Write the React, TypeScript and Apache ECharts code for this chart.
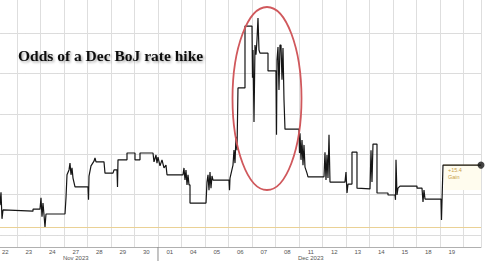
import React, { useEffect, useRef } from 'react';
import * as echarts from 'echarts';

// Trading-day tick labels (one band per trading day)
const dayLabels = ['22', '23', '24', '27', '28', '29', '30', '01', '04', '05', '06', '07', '08', '11', '12', '13', '14', '15', '18', '19'];
const monthLabels: Record<number, string> = { 3: 'Nov 2023', 13: 'Dec 2023' };
const monthBoundary = 7; // first December trading day
const xMax = 20.745; // visible end of the time axis (in trading days)
const yMax = 58.66;
const baseline = 1.9; // reference level (orange line)

// time in trading-day units (0 = start of 22 Nov)
const tradingTime = [
  0.277, 0.319, 0.362, 0.404, 1.681, 1.681, 1.979, 2.021, 2.064, 2.106, 2.149, 2.191, 2.234, 3.043, 3.085, 3.128,
  3.213, 3.255, 3.298, 3.34, 3.383, 3.468, 4.021, 4.043, 4.064, 4.149, 4.277, 4.319, 4.362, 4.702, 4.745, 5.085,
  5.128, 5.255, 5.277, 5.298, 5.681, 5.681, 6.021, 6.021, 6.234, 6.234, 6.787, 6.83, 6.915, 6.957, 7.0, 7.085,
  7.17, 7.255, 7.34, 7.383, 8.064, 8.106, 8.149, 8.191, 8.234, 8.277, 8.319, 8.362, 8.362, 9.043, 9.085, 9.128,
  9.17, 9.213, 9.255, 9.298, 9.34, 10.021, 10.043, 10.064, 10.191, 10.234, 10.277, 10.319, 10.362, 10.404, 10.702, 10.702,
  11.0, 11.021, 11.043, 11.085, 11.128, 11.17, 11.213, 11.255, 11.298, 11.34, 11.681, 11.681, 12.021, 12.043, 12.064, 12.106,
  12.149, 12.191, 12.234, 12.277, 12.319, 12.362, 12.404, 13.0, 13.021, 13.043, 13.085, 13.128, 13.17, 13.213, 13.255, 13.34,
  13.383, 14.064, 14.106, 14.149, 14.191, 14.234, 14.277, 14.319, 14.957, 15.0, 15.043, 15.085, 15.255, 15.255, 15.468, 15.468,
  16.021, 16.064, 16.106, 16.149, 16.319, 16.319, 16.787, 16.787, 17.085, 17.106, 17.128, 17.17, 17.213, 17.298, 18.021, 18.021,
  18.234, 18.277, 18.319, 18.362, 19.043, 19.064, 19.128, 20.745,
];

// odds of a December BoJ rate hike (%)
const odds = [
  7.4, 10.6, 4.0, 6.2, 5.9, 6.4, 6.4, 9.2, 4.5, 7.9, 5.0, 2.0, 5.2, 5.2, 9.2, 14.9,
  16.1, 17.8, 14.9, 16.6, 14.1, 11.9, 11.9, 8.7, 14.6, 17.1, 18.3, 19.1, 18.1, 18.1, 15.3, 15.3,
  16.1, 16.1, 11.9, 18.6, 18.6, 20.3, 20.3, 18.6, 18.6, 20.3, 20.3, 18.1, 19.8, 17.8, 19.3, 17.1,
  18.6, 16.6, 17.3, 14.9, 14.9, 16.6, 13.6, 16.1, 12.4, 14.9, 12.4, 12.4, 7.9, 7.9, 13.1, 14.9,
  11.1, 15.6, 11.6, 14.6, 13.6, 13.6, 11.1, 14.1, 17.3, 21.0, 17.8, 24.3, 21.0, 36.4, 36.4, 51.7,
  51.7, 38.9, 45.8, 28.0, 47.0, 44.6, 48.3, 53.7, 45.8, 45.0, 45.0, 40.6, 40.6, 24.8, 43.3, 46.5,
  35.9, 47.0, 47.0, 38.4, 46.3, 33.4, 26.2, 26.2, 20.3, 25.2, 18.6, 23.5, 17.3, 22.3, 16.8, 15.3,
  14.4, 14.4, 20.5, 13.6, 19.8, 14.1, 24.8, 13.1, 13.1, 15.6, 10.4, 12.6, 12.6, 20.5, 20.5, 11.6,
  11.4, 21.0, 13.1, 22.5, 22.5, 10.4, 10.4, 9.9, 9.9, 8.7, 18.6, 9.9, 11.6, 12.1, 12.1, 11.6,
  11.6, 8.2, 11.1, 8.9, 8.9, 3.7, 17.3, 17.3,
];

const App: React.FC = () => {
  const ref = useRef<HTMLDivElement>(null);

  useEffect(() => {
    if (!ref.current) return;
    const chart = echarts.init(ref.current, undefined, { renderer: 'svg' });
    const data = tradingTime.map((t, i) => [t, odds[i]]);
    const last = data[data.length - 1];
    const jump = data[data.length - 2];
    const gain = last[1] - baseline;
    const bandCats = [...dayLabels, ''];

    chart.setOption({
      animation: false,
      backgroundColor: '#ffffff',
      grid: [
        { left: -6.5, right: 4, top: -2, bottom: 26, containLabel: false, outerBoundsMode: 'none' },
        { left: -6.5, right: -2, top: -2, bottom: 26, containLabel: false, outerBoundsMode: 'none' },
      ],
      xAxis: [
        {
          type: 'value',
          gridIndex: 0,
          min: 0,
          max: xMax,
          interval: 1,
          offset: 12,
          axisLine: { show: true, onZero: false, lineStyle: { color: '#b0b0b0', width: 1 } },
          axisTick: { show: true, inside: true, length: 12, lineStyle: { color: '#dedede', width: 1 } },
          splitLine: { show: true, lineStyle: { color: '#dedede', width: 1 } },
          axisLabel: { show: false },
        },
        {
          type: 'category',
          gridIndex: 1,
          data: bandCats,
          boundaryGap: true,
          offset: 12,
          axisLine: { show: false, onZero: false },
          axisTick: { show: false },
          splitLine: { show: false },
          axisLabel: {
            show: true,
            interval: 0,
            hideOverlap: false,
            fontSize: 6,
            fontFamily: 'Arial, "Liberation Sans", sans-serif',
            color: '#555',
            lineHeight: 6,
            margin: 1.5,
            formatter: (v: string, i: number) => (monthLabels[i] ? `${v}\n${monthLabels[i]}` : v),
          },
        },
      ],
      yAxis: [
        {
          type: 'value',
          gridIndex: 0,
          position: 'right',
          min: 0,
          max: yMax,
          interval: 10,
          axisLine: { show: true, lineStyle: { color: '#c0c0c0', width: 1 } },
          axisTick: { show: true, length: 3, lineStyle: { color: '#333', width: 1 } },
          axisLabel: { show: false },
          splitLine: { show: true, lineStyle: { type: 'dotted', color: '#b8b8b8', width: 1 } },
        },
        { type: 'value', gridIndex: 1, show: false, min: 0, max: yMax },
      ],
      series: [
        {
          type: 'line',
          xAxisIndex: 0,
          yAxisIndex: 0,
          data,
          symbol: 'none',
          showSymbol: false,
          lineStyle: { color: '#151515', width: 1.2 },
          z: 3,
          markLine: {
            silent: true,
            symbol: 'none',
            label: { show: false },
            lineStyle: { color: '#ead195', type: 'solid', width: 1 },
            data: [{ yAxis: baseline }],
          },
        },
        {
          type: 'scatter',
          xAxisIndex: 0,
          yAxisIndex: 0,
          data: [last],
          symbolSize: 7,
          clip: false,
          itemStyle: { color: '#151515' },
          z: 5,
        },
      ],
    });

    const [lx, ly] = chart.convertToPixel({ gridIndex: 0 }, last) as number[];
    const [jx] = chart.convertToPixel({ gridIndex: 0 }, jump) as number[];
    const [mx, my] = chart.convertToPixel({ gridIndex: 0 }, [monthBoundary, 0]) as number[];

    chart.setOption({
      graphic: [
        {
          type: 'text',
          left: 18,
          top: 47,
          style: {
            text: 'Odds of a Dec BoJ rate hike',
            fontFamily: '"Liberation Serif", "Times New Roman", serif',
            fontWeight: 'bold',
            fontSize: 15.5,
            fill: '#111',
            textShadowColor: 'rgba(0,0,0,0.35)',
            textShadowBlur: 2,
            textShadowOffsetX: 1.5,
            textShadowOffsetY: 1.5,
          },
          z: 10,
        },
        {
          type: 'ellipse',
          shape: { cx: 267, cy: 98.5, rx: 34.5, ry: 91.5 },
          style: { fill: 'none', stroke: '#d0585c', lineWidth: 1.8 },
          z: 10,
        },
        {
          type: 'rect',
          shape: { x: jx + 1, y: ly, width: lx - jx - 1, height: 25 },
          style: { fill: '#fffcee' },
          z: 1,
        },
        {
          type: 'line',
          shape: { x1: jx, y1: ly, x2: lx, y2: ly },
          style: { stroke: '#ecd699', lineWidth: 1 },
          z: 2,
        },
        {
          type: 'text',
          x: jx + 5,
          y: ly + 2,
          style: {
            text: `${gain >= 0 ? '+' : ''}${gain.toFixed(1)}\nGain`,
            fontSize: 5.5,
            lineHeight: 6.5,
            fontFamily: 'Arial, "Liberation Sans", sans-serif',
            fill: '#c9a04a',
          },
          z: 4,
        },
        {
          type: 'line',
          shape: { x1: mx, y1: my + 12, x2: mx, y2: 261 },
          style: { stroke: '#8a8a8a', lineWidth: 1 },
          z: 4,
        },
      ],
    });

    return () => chart.dispose();
  }, []);

  return <div ref={ref} style={{ position: 'absolute', left: 0, top: 0, width: 485, height: 261 }} />;
};

export default App;
